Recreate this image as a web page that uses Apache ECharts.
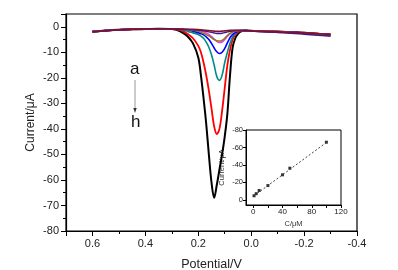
<!DOCTYPE html>
<html><head><meta charset="utf-8">
<script src="https://cdn.jsdelivr.net/npm/echarts@6/dist/echarts.min.js"></script>
<style>html,body{margin:0;padding:0;background:#fff}#c{width:398px;height:270px}</style>
</head><body><div id="c"></div>
<script>
// Potential (V) sample points shared by all curves
var POTENTIAL = [0.6,0.55,0.5,0.45,0.4,0.35,0.3,0.28,0.26,0.24,0.22,0.2,0.19,0.18,0.17,0.16,0.15,0.14,0.13,0.12,0.11,0.1,0.09,0.08,0.07,0.06,0.05,0.04,0.02,0.0,-0.05,-0.1,-0.15,-0.2,-0.25,-0.3];
// Current (uA) for curves a..h
var CURVE_A = [-2.0,-1.6,-1.2,-1.0,-0.9,-0.8,-0.8,-0.9,-0.9,-1.0,-1.0,-1.1,-1.2,-1.3,-1.4,-1.5,-1.6,-1.7,-1.8,-1.8,-1.7,-1.6,-1.5,-1.4,-1.4,-1.4,-1.4,-1.4,-1.5,-1.6,-1.8,-2.0,-2.2,-2.4,-2.7,-3.0];
var CURVE_B = [-1.9,-1.5,-1.2,-1.0,-0.9,-0.8,-0.9,-1.0,-1.0,-1.1,-1.2,-1.3,-1.4,-1.6,-1.8,-2.0,-2.2,-2.4,-2.6,-2.6,-2.5,-2.3,-2.0,-1.8,-1.6,-1.5,-1.5,-1.5,-1.5,-1.7,-1.9,-2.2,-2.5,-2.9,-3.3,-3.7];
var CURVE_C = [-1.9,-1.5,-1.2,-1.0,-0.9,-0.8,-0.9,-1.0,-1.1,-1.2,-1.4,-1.8,-2.2,-2.6,-3.1,-3.6,-4.3,-5,-5.5,-5.6,-5.3,-4.5,-3.4,-2.6,-2,-1.7,-1.6,-1.5,-1.5,-1.6,-1.8,-2.0,-2.2,-2.5,-2.9,-3.2];
var CURVE_D = [-1.9,-1.5,-1.2,-1.0,-0.9,-0.8,-0.9,-1.0,-1.0,-1.1,-1.3,-1.5,-1.7,-2,-2.4,-3,-3.8,-4.8,-5.7,-6.2,-6,-5,-3.8,-2.8,-2.1,-1.8,-1.6,-1.5,-1.5,-1.6,-1.8,-2.0,-2.2,-2.5,-2.9,-3.3];
var CURVE_E = [-1.9,-1.5,-1.2,-1.0,-0.9,-0.8,-0.9,-1.0,-1.1,-1.2,-1.7,-2.3,-2.7,-3.2,-4,-5,-6.5,-8.3,-9.8,-10.5,-10,-8.5,-6.3,-4.3,-3,-2.2,-1.8,-1.6,-1.5,-1.6,-1.8,-2.0,-2.2,-2.5,-2.9,-3.3];
var CURVE_F = [-1.9,-1.5,-1.2,-1.0,-0.9,-0.8,-0.9,-1.0,-1.3,-1.8,-2.4,-3,-3.7,-4.5,-6,-8,-11,-15,-19.5,-21,-19,-14,-10,-6.5,-4,-2.6,-1.9,-1.6,-1.5,-1.6,-1.8,-2.0,-2.2,-2.4,-2.8,-3.1];
var CURVE_G = [-1.9,-1.5,-1.2,-1.0,-0.9,-0.8,-0.9,-1.1,-1.6,-2.8,-4.5,-7.5,-10,-14,-19,-25,-32,-39,-42,-40,-33,-24,-15,-9,-5,-3,-2.1,-1.7,-1.5,-1.6,-1.8,-1.9,-2.1,-2.3,-2.7,-3.0];
var CURVE_H = [-1.9,-1.5,-1.2,-1.0,-0.9,-0.8,-0.9,-1.3,-2.3,-3.8,-6.5,-12,-19,-28,-38,-50,-61,-67,-62,-56,-50,-43,-34,-19,-8,-4.5,-2.8,-1.9,-1.5,-1.6,-1.8,-1.9,-2.1,-2.3,-2.7,-3.0];
// Inset calibration
var CONC = [1, 4, 8, 20, 40, 50, 100];
var PEAK_CURRENT = [-4.6, -7, -10.6, -16.3, -28.6, -36.2, -66];
var FIT_X = [1, 101];
var FIT_Y = [-4.6, -66.3];
var INSET_X_LABELS = [0, 40, 80, 120];
var INSET_Y_LABELS = [-80, -60, -40, -20, 0];

function pairs(xs, ys){ return xs.map(function(x,i){ return [x, ys[i]]; }); }

var curves = [
  {d: CURVE_H, c: '#000000', w: 2},
  {d: CURVE_G, c: '#ff0000', w: 1.8},
  {d: CURVE_F, c: '#008b8b', w: 1.6},
  {d: CURVE_E, c: '#0000ff', w: 1.6},
  {d: CURVE_D, c: '#e83ce8', w: 1.5},
  {d: CURVE_C, c: '#8c7a1e', w: 1.5},
  {d: CURVE_B, c: '#3a1a8a', w: 1.5},
  {d: CURVE_A, c: '#801030', w: 1.6}
];

var FONT = 'Liberation Sans, Arial, sans-serif';
var series = curves.map(function(cv){
  return {type:'line', xAxisIndex:0, yAxisIndex:0, data: pairs(POTENTIAL, cv.d), smooth: 0.35,
    showSymbol:false, lineStyle:{color:cv.c, width:cv.w}, silent:true, animation:false};
});
series.push({type:'line', xAxisIndex:1, yAxisIndex:1, data: pairs(FIT_X, FIT_Y), showSymbol:false,
  lineStyle:{color:'#444', width:1, type:[2,2]}, animation:false});
series.push({type:'scatter', xAxisIndex:1, yAxisIndex:1, data: pairs(CONC, PEAK_CURRENT), symbol:'rect',
  symbolSize:3, itemStyle:{color:'#000'}, animation:false});

var chart = echarts.init(document.getElementById('c'));
chart.setOption({
  animation:false,
  grid:[
    {left:66, right:41, top:14, bottom:39, show:true, borderColor:'#000', borderWidth:1.2, outerBoundsMode:'none', containLabel:false},
    {left:246, right:57, top:130, bottom:65, show:true, borderColor:'#000', borderWidth:1, backgroundColor:'#fff', outerBoundsMode:'none', containLabel:false}
  ],
  xAxis:[
    {type:'value', gridIndex:0, min:-0.4, max:0.7, interval:0.2, inverse:true,
     name:'Potential/V', nameLocation:'middle', nameGap:27,
     nameTextStyle:{fontFamily:FONT, fontSize:12.5, color:'#222'},
     axisLine:{onZero:false, lineStyle:{color:'#000', width:1.2}},
     axisTick:{length:5, lineStyle:{color:'#000'}},
     minorTick:{show:true, splitNumber:2, length:3, lineStyle:{color:'#000'}},
     splitLine:{show:false},
     axisLabel:{fontFamily:FONT, fontSize:11, color:'#222', margin:7, showMaxLabel:false,
       formatter:function(v){ return v.toFixed(1); }}},
    {type:'value', gridIndex:1, min:-10, max:120,
     name:'C/μM', nameLocation:'middle', nameGap:15,
     nameTextStyle:{fontFamily:FONT, fontSize:7.5, color:'#333'},
     axisLine:{onZero:false, lineStyle:{color:'#000', width:1}},
     axisTick:{length:3, customValues:[0,20,40,60,80,100,120], lineStyle:{color:'#000'}},
     splitLine:{show:false},
     axisLabel:{fontFamily:FONT, fontSize:8, color:'#222', margin:3, customValues:INSET_X_LABELS}}
  ],
  yAxis:[
    {type:'value', gridIndex:0, min:-80, max:5, interval:10,
     name:'Current/μA', nameLocation:'middle', nameGap:29, nameMoveOverlap:false,
     nameTextStyle:{fontFamily:FONT, fontSize:12, color:'#222'},
     axisLine:{onZero:false, lineStyle:{color:'#000', width:1.2}},
     axisTick:{length:5, lineStyle:{color:'#000'}},
     minorTick:{show:true, splitNumber:2, length:3, lineStyle:{color:'#000'}},
     splitLine:{show:false},
     axisLabel:{fontFamily:FONT, fontSize:11, color:'#222', margin:7, showMaxLabel:false}},
    {type:'value', gridIndex:1, min:-80, max:6, inverse:true,
     name:'Current/μA', nameLocation:'middle', nameGap:20,
     nameTextStyle:{fontFamily:FONT, fontSize:7.5, color:'#333'},
     axisLine:{onZero:false, lineStyle:{color:'#000', width:1}},
     axisTick:{length:3, customValues:[-80,-60,-40,-20,0], lineStyle:{color:'#000'}},
     splitLine:{show:false},
     axisLabel:{fontFamily:FONT, fontSize:7.5, color:'#222', margin:3, customValues:INSET_Y_LABELS}}
  ],
  graphic:[
    {type:'text', left:130, top:61, style:{text:'a', font:'17px ' + FONT, fill:'#111'}},
    {type:'text', left:131, top:114, style:{text:'h', font:'17px ' + FONT, fill:'#111'}},
    {type:'line', shape:{x1:135, y1:80, x2:135, y2:110}, style:{stroke:'#999', lineWidth:1}},
    {type:'polygon', shape:{points:[[133.3,108],[136.7,108],[135,113]]}, style:{fill:'#333'}}
  ],
  series: series
});
</script></body></html>
